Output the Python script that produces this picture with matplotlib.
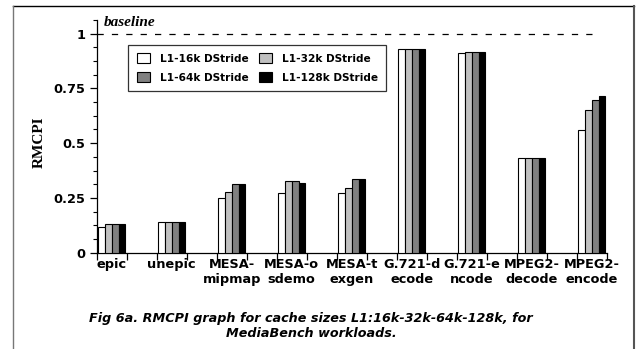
import matplotlib

matplotlib.use("Agg")

import matplotlib.pyplot as plt
import numpy as np
from matplotlib.lines import Line2D

# MediaBench workloads, one group of four bars per benchmark
benchmarks = ["epic", "unepic", "MESA-\nmipmap", "MESA-o\nsdemo", "MESA-t\nexgen",
              "G.721-d\necode", "G.721-e\nncode", "MPEG2-\ndecode", "MPEG2-\nencode"]
series = ["L1-16k DStride", "L1-32k DStride", "L1-64k DStride", "L1-128k DStride"]

rmcpi_16k = [0.115, 0.142, 0.251, 0.271, 0.271, 0.929, 0.910, 0.434, 0.560]
rmcpi_32k = [0.133, 0.138, 0.276, 0.329, 0.294, 0.929, 0.915, 0.434, 0.652]
rmcpi_64k = [0.133, 0.138, 0.314, 0.327, 0.335, 0.929, 0.915, 0.434, 0.697]
rmcpi_128k = [0.133, 0.138, 0.312, 0.320, 0.335, 0.929, 0.915, 0.434, 0.717]

colors = ["white", "#c0c0c0", "#808080", "black"]

SANS = "DejaVu Sans"
SERIF = "Liberation Serif"

fig = plt.figure(figsize=(6.38, 3.49), dpi=100)
ax = fig.add_axes([0.1516, 0.276, 0.7994, 0.667])

bar_w = 0.114
x = np.arange(len(benchmarks))
bars = []
for k, (vals, name) in enumerate(zip([rmcpi_16k, rmcpi_32k, rmcpi_64k, rmcpi_128k], series)):
    b = ax.bar(x + 0.022 + k * bar_w, vals, width=bar_w, align="edge",
               color=colors[k], edgecolor="black", linewidth=0.8, label=name, zorder=3)
    bars.append(b)

# reference line for the baseline configuration
ax.hlines(1.0, 0, 8.36, colors="black", linewidth=0.9,
          linestyles=(0, (5, 6.5)), zorder=2)
ax.text(0.12, 1.036, "baseline", family=SERIF, fontsize=11,
        fontweight="bold", fontstyle="italic", va="baseline")

ax.set_xlim(0, 8.5)
ax.set_ylim(0, 1.0625)

ax.set_yticks([0, 0.25, 0.5, 0.75, 1.0])
ax.set_yticklabels(["0", "0.25", "0.5", "0.75", "1"])
ax.set_yticks(np.arange(0, 1.07, 0.0625), minor=True)

ax.set_xticks(np.arange(0, 8.51, 0.5))
ax.set_xticklabels([])
ax.set_xticks(x + 0.25, minor=True)
ax.set_xticklabels(benchmarks, minor=True, linespacing=1.2)

ax.tick_params(axis="y", which="major", direction="out", length=5, width=0.9, pad=3.2)
ax.tick_params(axis="y", which="minor", direction="out", length=3, width=0.8)
ax.tick_params(axis="x", which="major", direction="out", length=5, width=0.9)
ax.tick_params(axis="x", which="minor", length=0, pad=3.6)
for lab in ax.get_yticklabels() + ax.get_xticklabels(minor=True):
    lab.set_family(SANS)
    lab.set_fontweight("bold")
    lab.set_fontsize(9.3)

for side in ("top", "right"):
    ax.spines[side].set_visible(False)
for side in ("left", "bottom"):
    ax.spines[side].set_linewidth(0.9)

ax.set_ylabel("RMCPI", family=SERIF, fontsize=11, fontweight="bold")
ax.yaxis.set_label_coords(-0.099, 0.476)

# legend filled row by row: 16k 32k / 64k 128k
order = [0, 2, 1, 3]
leg = ax.legend([bars[i] for i in order], [series[i] for i in order],
                ncol=2, loc="upper left", bbox_to_anchor=(0.062, 0.893),
                prop={"family": SANS, "weight": "bold", "size": 7.6},
                frameon=True, fancybox=False, edgecolor="black",
                handlelength=1.24, handleheight=1.1, handletextpad=0.95,
                columnspacing=0.95, labelspacing=0.8, borderpad=0.8,
                borderaxespad=0)
leg.get_frame().set_linewidth(0.9)

# page frame around the figure
fig.add_artist(Line2D([13 / 638, 634 / 638], [1 - 6 / 349, 1 - 6 / 349],
                      transform=fig.transFigure, color="black", linewidth=1))
fig.add_artist(Line2D([13 / 638, 13 / 638], [0, 1 - 6 / 349],
                      transform=fig.transFigure, color="#777777", linewidth=1))
fig.add_artist(Line2D([634 / 638, 634 / 638], [0, 1 - 6 / 349],
                      transform=fig.transFigure, color="#555555", linewidth=1.5))

cap = dict(family=SANS, fontsize=9.2, fontweight="bold", fontstyle="italic",
           ha="center", va="baseline")
fig.text(311 / 638, 1 - 321.7 / 349,
         "Fig 6a. RMCPI graph for cache sizes L1:16k-32k-64k-128k, for", **cap)
fig.text(311 / 638, 1 - 337.3 / 349, "MediaBench workloads.", **cap)

fig.savefig("out.png", dpi=100)
